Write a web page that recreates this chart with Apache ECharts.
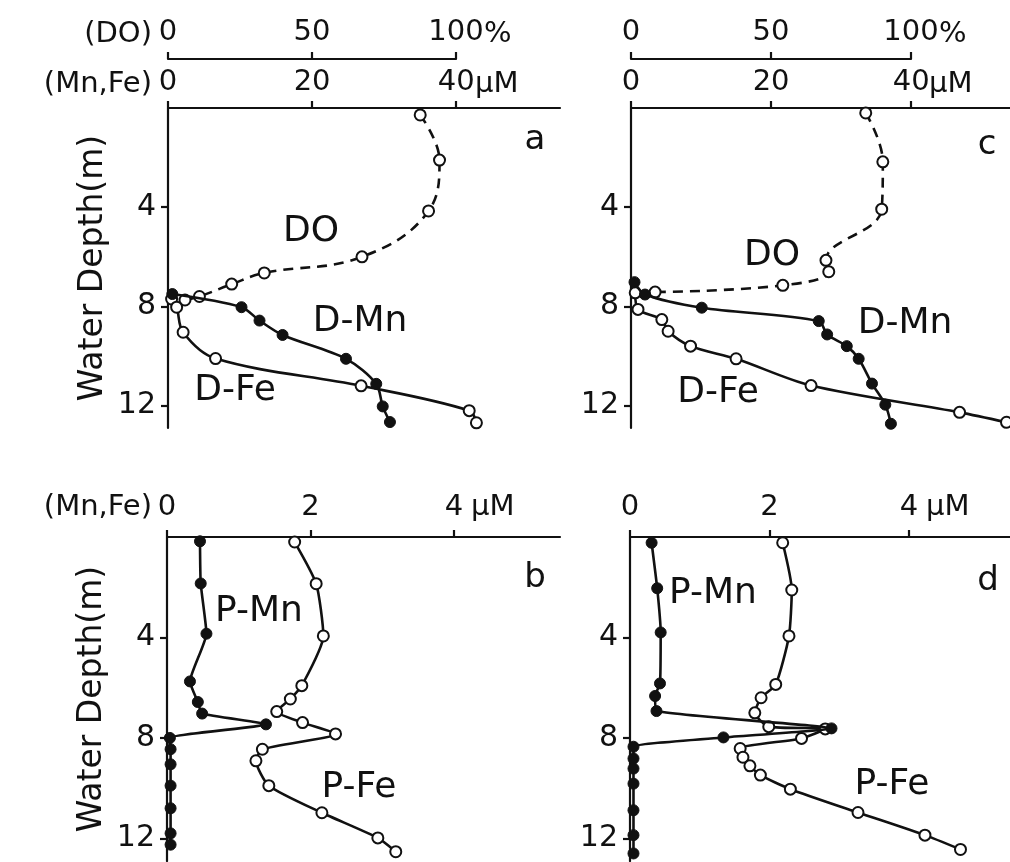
<!DOCTYPE html>
<html><head><meta charset="utf-8">
<script src="https://cdn.jsdelivr.net/npm/echarts@6/dist/echarts.min.js"></script>
<style>html,body{margin:0;padding:0;background:#fff}#c{width:1010px;height:862px}</style>
</head><body><div id="c"></div>
<script>
// ---- data: [value, depth(m)] ----
// panel a : DO in %, D-Mn / D-Fe in µM
const aDO   = [[87.5,0.28],[94.2,2.1],[90.4,4.15],[67.3,6.0],[33.4,6.65],[22.1,7.1],[10.9,7.6],[5.9,7.74]];
const aDMn  = [[0.6,7.5],[10.2,8.03],[12.7,8.57],[15.9,9.15],[24.7,10.11],[28.9,11.12],[29.8,12.03],[30.8,12.66]];
const aDFe  = [[0.5,7.7],[1.2,8.03],[2.1,9.04],[6.6,10.1],[26.8,11.2],[41.8,12.2],[42.8,12.69]];
// panel c
const cDO   = [[83.8,0.2],[89.9,2.17],[89.5,4.08],[69.6,6.14],[70.6,6.6],[54.2,7.15],[8.6,7.42]];
const cDMn  = [[0.5,7.02],[2.0,7.52],[10.1,8.05],[26.8,8.59],[28.0,9.13],[30.8,9.6],[32.5,10.11],[34.4,11.11],[36.3,11.96],[37.1,12.73]];
const cDFe  = [[0.6,7.45],[1.0,8.12],[4.4,8.53],[5.3,9.0],[8.5,9.6],[15.0,10.11],[25.7,11.19],[46.9,12.27],[53.6,12.67]];
// panel b : P-Mn / P-Fe in µM
const bPMn  = [[0.46,0.17],[0.47,1.85],[0.55,3.85],[0.32,5.75],[0.43,6.57],[0.49,7.03],[1.38,7.46],[0.04,8.0],[0.05,8.45],[0.05,9.05],[0.05,9.9],[0.05,10.8],[0.05,11.8],[0.05,12.25]];
const bPFe  = [[1.78,0.2],[2.08,1.86],[2.18,3.94],[1.88,5.92],[1.72,6.45],[1.53,6.95],[1.89,7.39],[2.35,7.84],[1.33,8.45],[1.24,8.91],[1.42,9.9],[2.16,10.98],[2.94,11.98],[3.19,12.53]];
// panel d
const dPMn  = [[0.31,0.23],[0.39,2.04],[0.44,3.8],[0.43,5.83],[0.36,6.33],[0.38,6.93],[2.89,7.62],[1.34,7.98],[0.05,8.35],[0.05,8.82],[0.05,9.22],[0.05,9.82],[0.05,10.88],[0.05,11.87],[0.05,12.6]];
const dPFe  = [[2.19,0.23],[2.32,2.11],[2.28,3.94],[2.09,5.87],[1.88,6.4],[1.79,7.0],[1.99,7.55],[2.8,7.64],[2.46,8.02],[1.58,8.42],[1.62,8.77],[1.72,9.11],[1.87,9.48],[2.3,10.04],[3.27,10.97],[4.23,11.87],[4.74,12.44]];
// ticks
const depthTicks = [4, 8, 12];
const dissTicks  = [0, 20, 40];
const doTicks    = [0, 50, 100];
const partTicks  = [0, 2, 4];

const FONT = 'DejaVu Sans';
const INK = '#111';
const LAB = 29;

function yAx(gi, name) {
  return {
    type: 'value', gridIndex: gi, inverse: true, min: 0, max: 12.9, interval: 4,
    axisLine: {show: true, lineStyle: {color: INK, width: 2.2}},
    axisTick: {show: true, inside: false, length: 7, lineStyle: {color: INK, width: 2.2}, customValues: depthTicks},
    axisLabel: {show: true, color: INK, fontSize: 30, fontFamily: FONT, margin: 12, customValues: depthTicks,
      formatter: v => depthTicks.includes(v) ? String(v) : ''},
    splitLine: {show: false},
    name: name || '', nameLocation: 'middle', nameRotate: 90, nameGap: 58,
    nameTextStyle: {color: INK, fontSize: 33, fontFamily: FONT}
  };
}
function xAx(gi, max, ticks, margin, interval) {
  return {
    type: 'value', gridIndex: gi, position: 'top', min: 0, max: max, interval: interval,
    axisLine: {show: true, lineStyle: {color: INK, width: 2.2}},
    axisTick: {show: true, inside: false, length: 7, lineStyle: {color: INK, width: 2.2}, customValues: ticks},
    axisLabel: {show: true, color: INK, fontSize: LAB, fontFamily: FONT, margin: margin, customValues: ticks,
      formatter: v => ticks.includes(v) ? String(v) : ''},
    splitLine: {show: false}
  };
}
function hiddenX(gi, max) { return {type: 'value', gridIndex: gi, min: 0, max: max, show: false}; }
function hiddenY(gi) { return {type: 'value', gridIndex: gi, min: 0, max: 1, show: false}; }

const openSym = {color: '#fff', borderColor: INK, borderWidth: 2};
const fillSym = {color: INK, borderColor: INK, borderWidth: 1};
function ser(xi, yi, data, open, dashed, smooth) {
  return {
    type: 'line', xAxisIndex: xi, yAxisIndex: yi, data: data,
    symbol: 'circle', symbolSize: 11, showSymbol: true,
    smooth: smooth, clip: false, animation: false,
    lineStyle: {color: INK, width: 2.6, type: dashed ? [10, 7] : 'solid'},
    itemStyle: open ? openSym : fillSym,
    z: open ? 3 : 4
  };
}
function txt(x, y, s, size, align) {
  return {type: 'text', x: x, y: y, z: 10,
    style: {text: s, fill: INK, font: size + 'px "' + FONT + '"', align: align || 'center', verticalAlign: 'middle'}};
}

const chart = echarts.init(document.getElementById('c'), null, {renderer: 'canvas'});
chart.setOption({
  backgroundColor: '#fff',
  animation: false,
  grid: [
    {left: 168, top: 108, width: 392, height: 320},   // a
    {left: 631, top: 108, width: 379, height: 320},   // c
    {left: 167, top: 537, width: 393, height: 324},   // b
    {left: 630, top: 537, width: 380, height: 324},   // d
    {left: 168, top: 58, width: 288, height: 1},      // DO scale a
    {left: 631, top: 58, width: 280, height: 1}       // DO scale c
  ],
  xAxis: [
    xAx(0, 54.4, dissTicks, 11, 20),
    hiddenX(0, 136),
    xAx(1, 54.1, dissTicks, 11, 20),
    hiddenX(1, 135.3),
    xAx(2, 5.48, partTicks, 15, 2),
    xAx(3, 5.45, partTicks, 15, 2),
    Object.assign(xAx(4, 100, doTicks, 11, 50), {axisTick: {show: true, inside: false, length: 7, lineStyle: {color: INK, width: 2.2}}}),
    Object.assign(xAx(5, 100, doTicks, 11, 50), {axisTick: {show: true, inside: false, length: 7, lineStyle: {color: INK, width: 2.2}}})
  ],
  yAxis: [yAx(0, 'Water Depth(m)'), yAx(1), yAx(2, 'Water Depth(m)'), yAx(3), hiddenY(4), hiddenY(5)],
  series: [
    ser(1, 0, aDO, true, true, 0.4),
    ser(0, 0, aDFe, true, false, 0.35),
    ser(0, 0, aDMn, false, false, 0.3),
    ser(3, 1, cDO, true, true, 0.4),
    ser(2, 1, cDFe, true, false, 0.3),
    ser(2, 1, cDMn, false, false, 0.3),
    ser(4, 2, bPFe, true, false, 0.2),
    ser(4, 2, bPMn, false, false, 0.15),
    ser(5, 3, dPFe, true, false, 0.2),
    ser(5, 3, dPMn, false, false, 0.15)
  ],
  graphic: [
    txt(152, 34, '(DO)', LAB, 'right'),
    txt(152, 84, '(Mn,Fe)', LAB, 'right'),
    txt(152, 507, '(Mn,Fe)', LAB, 'right'),
    txt(484, 34, '%', LAB, 'left'),
    txt(939, 34, '%', LAB, 'left'),
    txt(475, 84, 'µM', LAB, 'left'),
    txt(929, 84, 'µM', LAB, 'left'),
    txt(471, 507, 'µM', LAB, 'left'),
    txt(926, 507, 'µM', LAB, 'left'),
    txt(535, 140, 'a', 34), txt(987, 145, 'c', 34),
    txt(535, 578, 'b', 34), txt(988, 581, 'd', 34),
    txt(311, 232, 'DO', 36), txt(360, 322, 'D-Mn', 36), txt(235, 391, 'D-Fe', 36),
    txt(772, 256, 'DO', 36), txt(905, 324, 'D-Mn', 36), txt(718, 393, 'D-Fe', 36),
    txt(259, 612, 'P-Mn', 36), txt(359, 788, 'P-Fe', 36),
    txt(713, 594, 'P-Mn', 36), txt(892, 785, 'P-Fe', 36)
  ]
});
</script></body></html>
